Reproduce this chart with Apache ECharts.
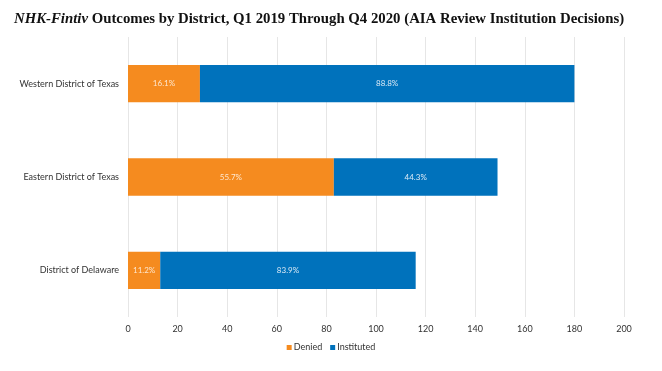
<!DOCTYPE html>
<html><head><meta charset="utf-8">
<script src="https://cdn.jsdelivr.net/npm/echarts@6/dist/echarts.min.js"></script>
<style>html,body{margin:0;padding:0;background:#fff}#c{width:662px;height:371px}</style>
</head><body><div id="c"></div>
<script>
const categories = ['District of Delaware', 'Eastern District of Texas', 'Western District of Texas'];
const denied = [13, 83, 29];
const instituted = [103, 66, 151];
const deniedLabels = ['11.2%', '55.7%', '16.1%'];
const institutedLabels = ['83.9%', '44.3%', '88.8%'];
const xTicks = [0, 20, 40, 60, 80, 100, 120, 140, 160, 180, 200];

const chart = echarts.init(document.getElementById('c'));
const font = 'Lato, "Open Sans", sans-serif';
chart.setOption({
  animation: false,
  title: {
    text: '{i|NHK-Fintiv} Outcomes by District, Q1 2019 Through Q4 2020 (AIA Review Institution Decisions)',
    left: 14, top: 12, padding: 0,
    textStyle: {
      fontFamily: '"Liberation Serif", serif', fontWeight: 'bold', fontSize: 14.8, color: '#111',
      rich: { i: { fontFamily: '"Liberation Serif", serif', fontStyle: 'italic', fontWeight: 'bold', fontSize: 14.8, color: '#111' } }
    }
  },
  grid: { left: 128, right: 38, top: 37, height: 280, containLabel: false },
  xAxis: {
    type: 'value', min: 0, max: 200, interval: 20,
    axisLine: { show: false }, axisTick: { show: false },
    splitLine: { lineStyle: { color: '#e6e6e6' } },
    axisLabel: { fontFamily: font, fontSize: 9, color: '#333', margin: 8,
      formatter: v => xTicks.includes(v) ? String(v) : '' }
  },
  yAxis: {
    type: 'category', data: categories,
    axisLine: { show: false }, axisTick: { show: false },
    axisLabel: { fontFamily: font, fontSize: 9, color: '#333', margin: 9 }
  },
  legend: {
    bottom: 14, left: 'center', itemWidth: 5, itemHeight: 5, itemGap: 8,
    icon: 'rect',
    textStyle: { fontFamily: font, fontSize: 9, color: '#333', padding: [0, 0, 0, -3] },
    data: ['Denied', 'Instituted']
  },
  series: [
    { name: 'Denied', type: 'bar', stack: 's', barWidth: '40%', data: denied,
      itemStyle: { color: '#F58B1F' },
      label: { show: true, position: 'inside', color: '#fde7cf', fontFamily: font, fontSize: 8,
        formatter: p => deniedLabels[p.dataIndex] } },
    { name: 'Instituted', type: 'bar', stack: 's', barWidth: '40%', data: instituted,
      itemStyle: { color: '#0072BC' },
      label: { show: true, position: 'inside', color: '#dbeaf6', fontFamily: font, fontSize: 8,
        formatter: p => institutedLabels[p.dataIndex] } }
  ]
});
</script></body></html>
